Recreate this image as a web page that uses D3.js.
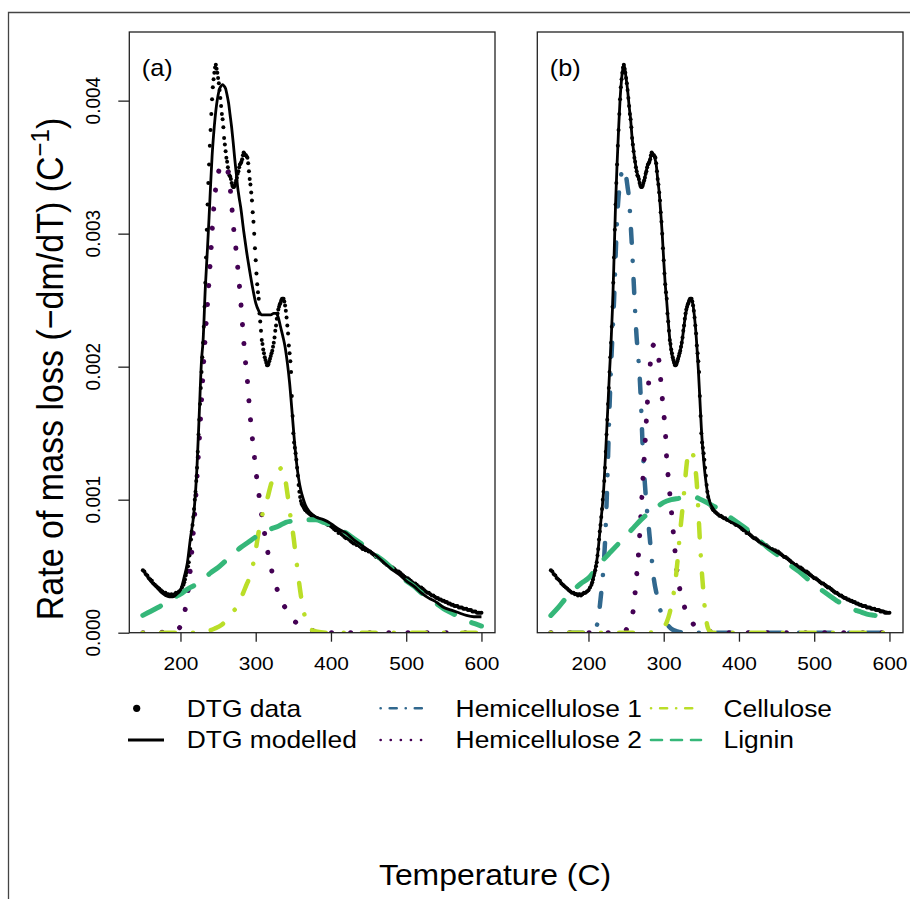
<!DOCTYPE html>
<html>
<head>
<meta charset="utf-8">
<script src="https://cdn.jsdelivr.net/npm/d3@7"></script>
<style>
  body { margin: 0; background: #fff; }
  svg { display: block; }
  text { font-family: "Liberation Sans", Arial, sans-serif; fill: #000; }
</style>
</head>
<body>
<div id="chart"></div>
<script>
// ---- data: [temperature (C), rate (1/C)] ----
const dtgData = [
  [150,0.00047],[152,0.00046],[154,0.00044],[156,0.00043],[158,0.00041],[160,0.0004],[162,0.00039],[164,0.00037],
  [166,0.00036],[168,0.00035],[170,0.00034],[172,0.00033],[174,0.00032],[176,0.00031],[178,0.0003],[180,0.0003],
  [182,0.00029],[184,0.00029],[186,0.00028],[188,0.00029],[190,0.00028],[192,0.00029],[194,0.0003],[196,0.0003],
  [198,0.00031],[200,0.00032],[202,0.00034],[204,0.00036],
  [205,0.00038],[206,0.0004],[207,0.00043],[208,0.00045],[209,0.00047],[210,0.0005],[211,0.00053],[212,0.00058],
  [213,0.00063],[214,0.0007],[215,0.00076],[216,0.00081],[217,0.00087],[218,0.00093],[219,0.001],[220,0.00106],
  [221,0.00114],[222,0.00124],[223,0.00136],[224,0.00149],[225,0.0016],[226,0.00172],[227,0.00184],[228,0.00196],
  [229,0.00207],[230,0.00218],[231,0.0023],[232,0.00245],[233,0.00263],[234,0.00282],[235,0.00303],[236,0.00322],
  [237,0.00338],[238,0.00352],[239,0.00366],[240,0.00378],[241,0.0039],[242,0.00401],[243,0.0041],[244,0.00416],
  [245,0.00421],[246,0.00425],[247,0.00427],[248,0.00424],[249,0.00421],[250,0.00417],[251,0.00413],[252,0.00408],
  [253,0.00402],[254,0.00396],[255,0.0039],[256,0.00386],[257,0.0038],[258,0.00372],[259,0.00367],[260,0.00362],
  [261,0.00357],[262,0.00354],[263,0.0035],[264,0.00347],[265,0.00344],[266,0.00343],[267,0.00341],[268,0.00338],
  [269,0.00336],[270,0.00335],[271,0.00335],[272,0.00336],[273,0.00338],[274,0.0034],[275,0.00342],[276,0.00345],
  [277,0.00347],[278,0.0035],[279,0.00352],[280,0.00353],[281,0.00354],[282,0.00356],[283,0.00359],[284,0.00361],
  [285,0.0036],[286,0.00359],[287,0.00359],[288,0.00358],[289,0.00357],[290,0.00353],[291,0.00347],[292,0.00341],
  [293,0.00337],[294,0.00331],[295,0.00325],[296,0.00316],[297,0.00309],[298,0.003],[299,0.00289],[300,0.0028],
  [301,0.0027],[302,0.00262],[303,0.00256],[304,0.00251],[305,0.0024],[306,0.00234],[307,0.00227],[308,0.0022],
  [309,0.00217],[310,0.00213],[311,0.0021],[312,0.00207],[313,0.00205],[314,0.00203],[315,0.00201],[316,0.00201],
  [317,0.00202],[318,0.00204],[319,0.00206],[320,0.00208],[321,0.0021],[322,0.00212],[323,0.00215],[324,0.00218],
  [325,0.00222],[326,0.00227],[327,0.00231],[328,0.00236],[329,0.0024],[330,0.00243],[331,0.00245],[332,0.00247],
  [333,0.00248],[334,0.0025],[335,0.00251],[336,0.00251],[337,0.00251],[338,0.00249],[339,0.00246],[340,0.00242],
  [341,0.00237],[342,0.00231],[343,0.00225],[344,0.00216],[345,0.0021],[346,0.00204],[347,0.00196],[348,0.00178],
  [349,0.00163],[350,0.0015],[351,0.00143],[352,0.00139],[353,0.00135],[354,0.0013],[355,0.00124],[356,0.00118],
  [357,0.00111],[358,0.00106],[359,0.00102],[360,0.00099],[361,0.00097],[362,0.00096],[363,0.00095],[364,0.00094],
  [365,0.00093],[366,0.00092],[368,0.00091],[370,0.0009],[372,0.00089],[374,0.00088],[376,0.00088],[378,0.00087],
  [380,0.00086],[382,0.00086],[384,0.00085],[386,0.00085],[388,0.00084],[390,0.00083],[392,0.00083],[394,0.00082],
  [396,0.00081],[398,0.00081],[400,0.0008],[402,0.00079],[404,0.00078],[406,0.00077],[408,0.00077],[410,0.00075],
  [412,0.00076],[414,0.00074],[416,0.00073],[418,0.00072],[420,0.00071],[422,0.00071],[424,0.0007],[426,0.00069],
  [428,0.00068],[430,0.00067],[432,0.00067],[434,0.00066],[436,0.00066],[438,0.00065],[440,0.00064],[442,0.00063],
  [444,0.00063],[446,0.00062],[448,0.00062],[450,0.00061],[452,0.00061],[454,0.0006],[456,0.00059],[458,0.00058],
  [460,0.00057],[462,0.00057],[464,0.00056],[466,0.00055],[468,0.00054],[470,0.00053],[472,0.00052],[474,0.00051],
  [476,0.00051],[478,0.0005],[480,0.00049],[482,0.00049],[484,0.00048],[486,0.00047],[488,0.00046],[490,0.00046],
  [492,0.00045],[494,0.00044],[496,0.00043],[498,0.00042],[500,0.00041],[502,0.00041],[504,0.0004],[506,0.00039],
  [508,0.00038],[510,0.00037],[512,0.00037],[514,0.00036],[516,0.00035],[518,0.00034],[520,0.00034],[522,0.00033],
  [524,0.00032],[526,0.00031],[528,0.0003],[530,0.0003],[532,0.00029],[534,0.00028],[536,0.00028],[538,0.00027],
  [540,0.00026],[542,0.00026],[544,0.00025],[546,0.00025],[548,0.00024],[550,0.00024],[552,0.00023],[554,0.00023],
  [556,0.00022],[558,0.00022],[560,0.00021],[562,0.00021],[564,0.0002],[566,0.0002],[568,0.0002],[570,0.00019],
  [572,0.00019],[574,0.00019],[576,0.00018],[578,0.00018],[580,0.00018],[582,0.00017],[584,0.00017],[586,0.00017],
  [588,0.00016],[590,0.00016],[592,0.00016],[594,0.00015],[596,0.00015],[598,0.00015],[600,0.00015]
];

// panel (a): three-component fit
const modelA = [
  [150,0.00047],[155,0.00043],[160,0.00039],[165,0.00036],[170,0.00033],[175,0.0003],[180,0.00028],[185,0.00027],
  [190,0.00027],[195,0.00029],[200,0.00032],[205,0.00042],[209,0.00052],[213,0.0007],[218,0.00091],[222,0.00125],
  [225,0.00165],[228,0.00205],[230,0.00219],[233,0.00259],[236,0.0029],[238,0.00312],[240,0.00336],[242,0.00358],
  [244,0.00374],[246,0.00387],[248,0.00397],[250,0.00404],[252,0.00409],[254,0.00411],[256,0.00412],[258,0.00411],
  [260,0.00409],[262,0.00404],[264,0.00398],[266,0.00389],[268,0.0038],[270,0.00369],[272,0.00357],[274,0.00346],
  [276,0.00335],[278,0.00327],[280,0.0032],[284,0.00302],[288,0.00286],[292,0.00272],[296,0.00259],[300,0.00248],
  [304,0.00242],[308,0.00239],[312,0.00239],[316,0.00239],[320,0.00239],[324,0.0024],[327,0.0024],[330,0.00237],
  [333,0.0023],[336,0.00223],[339,0.00215],[342,0.00203],[345,0.00188],[348,0.00168],[351,0.00147],[354,0.00129],
  [357,0.00116],[360,0.00107],[363,0.00101],[366,0.00096],[370,0.00092],[375,0.00089],[380,0.00087],[390,0.00085],
  [400,0.00082],[410,0.00078],[420,0.00075],[430,0.0007],[440,0.00066],[450,0.00062],[460,0.00058],[470,0.00053],
  [480,0.00048],[490,0.00044],[500,0.00039],[510,0.00035],[520,0.0003],[530,0.00026],[540,0.00023],[550,0.00019],
  [560,0.00017],[570,0.00015],[580,0.00013],[590,0.00012],[600,0.00012]
];
const hemi2A = [
  [150,0],[185,0.000005],[195,0.00002],[200,0.00005],[205,0.00014],[210,0.00031],[213,0.00047],[216,0.00068],
  [219,0.0009],[222,0.00117],[225,0.00145],[228,0.00175],[231,0.00205],[234,0.00232],[237,0.00256],[240,0.00282],
  [243,0.0031],[246,0.0033],[249,0.00342],[252,0.00349],[256,0.00352],[259,0.00352],[262,0.00349],[265,0.0034],
  [268,0.00322],[271,0.00302],[274,0.00287],[277,0.00269],[280,0.0025],[283,0.00227],[286,0.00206],[289,0.00189],
  [292,0.00167],[295,0.00149],[298,0.00134],[301,0.00118],[304,0.00105],[307,0.00092],[310,0.00081],[314,0.00067],
  [318,0.00055],[322,0.00045],[326,0.00037],[330,0.0003],[335,0.00023],[340,0.00018],[345,0.00013],[355,0.00007],
  [365,0.00004],[380,0.00001],[400,0],[600,0]
];
const celluloseA = [
  [150,0],[220,0],[235,0.00001],[245,0.00003],[255,0.00006],[262,0.0001],[270,0.00016],[276,0.0002],[282,0.00028],
  [287,0.00035],[292,0.00042],[296,0.0005],[300,0.00062],[304,0.00076],[308,0.00087],[312,0.00095],[316,0.00102],
  [320,0.00111],[324,0.00117],[328,0.00121],[332,0.00123],[335,0.00124],[338,0.0012],[341,0.00109],[344,0.00097],
  [347,0.00084],[350,0.00073],[353,0.00059],[356,0.00045],[359,0.00032],[362,0.00021],[365,0.00013],[368,0.00007],
  [372,0.00003],[380,0.00001],[395,0],[600,0]
];
const ligninA = [
  [150,0.00013],[160,0.00016],[170,0.00019],[180,0.00022],[190,0.00026],[200,0.00029],[210,0.00033],[220,0.00036],
  [230,0.0004],[240,0.00045],[250,0.00049],[260,0.00054],[270,0.00059],[280,0.00064],[290,0.00068],[300,0.00072],
  [310,0.00075],[320,0.00078],[330,0.0008],[340,0.00083],[350,0.00084],[360,0.00085],[370,0.00085],[380,0.00085],
  [390,0.00083],[400,0.00081],[410,0.00078],[420,0.00075],[430,0.00071],[440,0.00067],[450,0.00062],[460,0.00058],
  [470,0.00054],[480,0.00049],[490,0.00044],[500,0.00039],[510,0.00035],[520,0.0003],[530,0.00026],[540,0.00022],
  [550,0.00018],[560,0.00015],[570,0.00012],[580,0.00009],[590,0.00007],[600,0.00005]
];

// panel (b): four-component fit
const modelB = [
  [150,0.00047],[160,0.0004],[170,0.00034],[180,0.0003],[190,0.00029],[196,0.0003],[200,0.00032],[204,0.00036],
  [208,0.00045],[212,0.00058],[216,0.00081],[220,0.00106],[224,0.00149],[228,0.00196],[230,0.00218],[232,0.00245],
  [234,0.00282],[236,0.00322],[238,0.00352],[240,0.00378],[242,0.00401],[244,0.00416],[246,0.00425],[247,0.00427],
  [248,0.00425],[250,0.00417],[252,0.00408],[254,0.00396],[256,0.00386],[258,0.00372],[260,0.00362],[262,0.00354],
  [264,0.00347],[266,0.00343],[268,0.00338],[270,0.00335],[272,0.00336],[274,0.0034],[276,0.00345],[278,0.0035],
  [280,0.00353],[282,0.00356],[284,0.0036],[286,0.00359],[288,0.00357],[290,0.00352],[292,0.00341],[294,0.00331],
  [296,0.00316],[298,0.003],[300,0.0028],[302,0.00262],[304,0.00249],[306,0.00234],[308,0.00221],[310,0.00212],
  [312,0.00206],[314,0.00202],[316,0.00201],[318,0.00203],[320,0.00207],[322,0.00212],[324,0.00218],[326,0.00226],
  [328,0.00235],[330,0.00242],[332,0.00247],[334,0.0025],[336,0.00251],[338,0.00249],[340,0.00242],[342,0.00231],
  [344,0.00216],[346,0.00198],[348,0.00176],[350,0.00154],[352,0.00137],[354,0.00124],[356,0.00114],[358,0.00106],
  [360,0.00101],[362,0.00097],[365,0.00094],[370,0.0009],[380,0.00086],[390,0.00083],[400,0.0008],[420,0.00071],
  [440,0.00064],[460,0.00057],[480,0.00049],[500,0.00041],[520,0.00034],[540,0.00026],[560,0.00021],[580,0.00018],
  [600,0.00015]
];
const hemi1B = [
  [150,0],[200,0],[205,0.00001],[210,0.00004],[213,0.0001],[216,0.00025],[219,0.00042],[222,0.00068],[225,0.00113],
  [228,0.0017],[230,0.002],[232,0.00225],[234,0.0025],[236,0.00282],[238,0.0031],[240,0.00328],[242,0.00338],
  [244,0.00346],[246,0.00349],[248,0.00348],[250,0.00343],[252,0.00335],[254,0.00326],[256,0.00308],[258,0.00288],
  [260,0.00265],[262,0.00242],[264,0.00222],[266,0.00209],[268,0.00193],[270,0.0017],[272,0.0014],[274,0.0012],
  [277,0.00097],[280,0.0008],[283,0.00062],[287,0.0004],[291,0.00028],[295,0.00018],[300,0.0001],[305,0.00006],
  [310,0.00003],[318,0.00001],[330,0],[600,0]
];
const hemi2B = [
  [150,0],[240,0],[248,0.00001],[252,0.00004],[256,0.0001],[259,0.00015],[262,0.0003],[264,0.00043],[266,0.00055],
  [268,0.00073],[270,0.00092],[272,0.00112],[274,0.0013],[276,0.0015],[278,0.0017],[280,0.00188],[282,0.00201],
  [284,0.00212],[286,0.00216],[288,0.00217],[290,0.00215],[292,0.00211],[294,0.00203],[296,0.0019],[298,0.00177],
  [300,0.00165],[302,0.00153],[304,0.0013],[306,0.00117],[308,0.00105],[310,0.00093],[312,0.0008],[314,0.00068],
  [316,0.00055],[318,0.00045],[320,0.00037],[325,0.00025],[330,0.00015],[335,0.0001],[340,0.00006],[350,0.00002],
  [360,0.00001],[380,0],[600,0]
];
const celluloseB = [
  [150,0],[280,0],[290,0.00001],[296,0.00002],[300,0.00004],[304,0.00008],[308,0.00015],[312,0.00026],[315,0.00036],
  [318,0.00052],[321,0.00071],[324,0.00088],[327,0.00105],[330,0.00124],[333,0.00136],[336,0.00137],[339,0.00134],
  [342,0.00124],[344,0.00112],[346,0.00092],[348,0.0007],[350,0.00051],[352,0.00036],[354,0.00022],[356,0.00012],
  [358,0.00005],[360,0.00002],[365,0],[600,0]
];
const ligninB = [
  [150,0.00013],[160,0.00019],[170,0.00026],[180,0.00032],[190,0.00037],[200,0.00041],[210,0.00048],[220,0.00055],
  [230,0.00061],[240,0.00067],[250,0.00073],[260,0.00079],[270,0.00085],[280,0.0009],[290,0.00094],[300,0.00098],
  [310,0.001],[320,0.00101],[330,0.00102],[340,0.00102],[350,0.001],[360,0.00097],[370,0.00094],[380,0.0009],
  [390,0.00086],[400,0.00082],[410,0.00078],[420,0.00073],[430,0.00068],[440,0.00063],[450,0.00059],[460,0.00055],
  [470,0.0005],[480,0.00046],[490,0.00041],[500,0.00036],[510,0.00032],[520,0.00028],[530,0.00024],[540,0.00021],
  [550,0.00018],[560,0.00016],[570,0.00014],[580,0.00013],[590,0.00012],[600,0.00011]
];

const xTicks = [200, 300, 400, 500, 600];
const yTicks = [0, 0.001, 0.002, 0.003, 0.004];
const panelLabels = ["(a)", "(b)"];
const legendLabels = ["DTG data", "DTG modelled", "Hemicellulose 1", "Hemicellulose 2", "Cellulose", "Lignin"];

// ---- styles ----
const col = {hemi1: "#31688e", hemi2: "#440154", cell: "#bade28", lig: "#35b779"};
const styles = {
  hemi1: {stroke: col.hemi1, width: 4.5, dash: "0.1 18 14 18"},
  hemi2: {stroke: col.hemi2, width: 5, dash: "0.1 19"},
  cell:  {stroke: col.cell, width: 4.5, dash: "0.1 18 14 18"},
  lig:   {stroke: col.lig, width: 5, dash: "20 19"}
};

const W = 910, H = 899;
const svg = d3.select("#chart").append("svg").attr("width", W).attr("height", H);
svg.append("rect").attr("width", W).attr("height", H).attr("fill", "#fff");

// outer frame (left and top edges visible)
svg.append("path").attr("d", "M8.5,899V12.5H910").attr("fill", "none")
  .attr("stroke", "#444").attr("stroke-width", 1.3);

const SX = 1.1; // text in the figure is slightly wider than tall
function label(g, x, y, s, size, anchor, rot) {
  return g.append("text")
    .attr("transform", `translate(${x},${y}) scale(${SX},1)` + (rot ? " rotate(-90)" : ""))
    .attr("font-size", size)
    .attr("text-anchor", anchor || "start")
    .text(s);
}

const y = d3.scaleLinear().domain([0, 0.004516]).range([632.7, 32]);
const panels = [
  {x0: 129.3, model: modelA, comps: [["hemi2", hemi2A], ["cell", celluloseA], ["lig", ligninA]], yLabels: true},
  {x0: 537.3, model: modelB, comps: [["hemi1", hemi1B], ["hemi2", hemi2B], ["cell", celluloseB], ["lig", ligninB]], yLabels: false}
];

panels.forEach((p, i) => {
  const x = d3.scaleLinear().domain([132, 618]).range([p.x0, p.x0 + 365.7]);
  const g = svg.append("g");

  const clipId = "clip" + i;
  svg.append("clipPath").attr("id", clipId).append("rect")
    .attr("x", p.x0).attr("y", 32).attr("width", 365.7).attr("height", 600.7);

  const line = d3.line().x(d => x(d[0])).y(d => y(d[1])).curve(d3.curveMonotoneX);
  const plot = g.append("g").attr("clip-path", `url(#${clipId})`);

  // data points
  plot.append("g").selectAll("circle")
    .data(dtgData)
    .join("circle")
      .attr("cx", d => x(d[0]))
      .attr("cy", d => y(d[1]))
      .attr("r", 2)
      .attr("fill", "#000");

  // component curves
  p.comps.forEach(([key, arr]) => {
    const s = styles[key];
    plot.append("path").datum(arr)
      .attr("d", line)
      .attr("fill", "none")
      .attr("stroke", s.stroke)
      .attr("stroke-width", s.width)
      .attr("stroke-dasharray", s.dash)
      .attr("stroke-linecap", "round");
  });

  // modelled DTG
  plot.append("path").datum(p.model)
    .attr("d", line)
    .attr("fill", "none")
    .attr("stroke", "#000")
    .attr("stroke-width", 2.8)
    .attr("stroke-linejoin", "round");

  // box
  g.append("rect")
    .attr("x", p.x0).attr("y", 32).attr("width", 365.7).attr("height", 600.7)
    .attr("fill", "none").attr("stroke", "#222").attr("stroke-width", 1.3);

  // x axis
  const xAxis = g.append("g").attr("transform", "translate(0,632.7)")
    .call(d3.axisBottom(x).tickValues(xTicks).tickSize(9).tickSizeOuter(0));
  xAxis.select(".domain").remove();
  xAxis.selectAll("line").attr("stroke", "#222").attr("stroke-width", 1.3);
  xAxis.selectAll("text")
    .attr("y", 37).attr("dy", null)
    .attr("transform", `scale(${SX},1)`)
    .attr("font-size", 19)
    .attr("font-family", "Liberation Sans, Arial, sans-serif")
    .attr("fill", "#000");

  // y axis
  if (p.yLabels) {
    const yAxis = g.append("g").attr("transform", `translate(${p.x0},0)`)
      .call(d3.axisLeft(y).tickValues(yTicks).tickSize(11).tickFormat(""));
    yAxis.select(".domain").remove();
    yAxis.selectAll("line").attr("stroke", "#222").attr("stroke-width", 1.3);
    yTicks.forEach(v => label(g, 100, y(v), d3.format(".3f")(v), 19, "middle", true));
  }

  label(g, p.x0 + 12.5, 76, panelLabels[i], 23, "start");
});

// y axis title
const yTitle = svg.append("text")
  .attr("transform", `translate(63,369) scale(${SX},1) rotate(-90)`)
  .attr("font-size", 34)
  .attr("text-anchor", "middle");
yTitle.append("tspan").text("Rate of mass loss (\u2212dm/dT) (C");
yTitle.append("tspan").attr("font-size", 24).attr("dy", -13).text("\u22121");
yTitle.append("tspan").attr("dy", 13).text(")");

// x axis title
label(svg, 495, 885, "Temperature (C)", 29, "middle");

// ---- legend ----
const leg = svg.append("g");
const row1 = 708.3, row2 = 740;
leg.append("circle").attr("cx", 136.7).attr("cy", row1).attr("r", 3.6).attr("fill", "#000");
leg.append("line").attr("x1", 128).attr("x2", 164).attr("y1", row2).attr("y2", row2)
  .attr("stroke", "#000").attr("stroke-width", 2.8);

const legendKeys = [null, null, "hemi1", "hemi2", "cell", "lig"];
const legendLine = {hemi1: "0.1 9 7 9", hemi2: "0.1 10", cell: "0.1 9 7 9", lig: "11 9"};
const legX = [[128, 186.7], [128, 186.7], [380.6, 455.6], [380.6, 455.6], [651, 723.5], [651, 723.5]];
legendLabels.forEach((t, i) => {
  const ry = i % 2 === 0 ? row1 : row2;
  const key = legendKeys[i];
  if (key) {
    leg.append("line")
      .attr("x1", legX[i][0]).attr("x2", legX[i][0] + 50)
      .attr("y1", ry).attr("y2", ry)
      .attr("stroke", styles[key].stroke)
      .attr("stroke-width", 2.6)
      .attr("stroke-dasharray", legendLine[key])
      .attr("stroke-linecap", "round");
  }
  label(leg, legX[i][1], ry + 8.3, t, 24, "start");
});
</script>
</body>
</html>
